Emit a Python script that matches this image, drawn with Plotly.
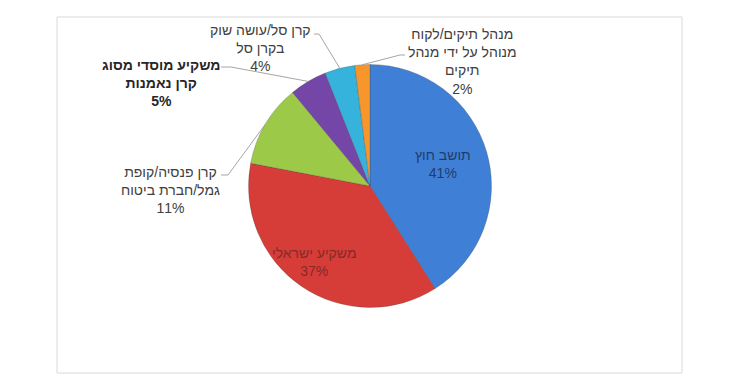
import plotly.graph_objects as go
import math

# ---- data ----
categories = [
    "תושב חוץ",
    "משקיע ישראלי",
    "קרן פנסיה/קופת גמל/חברת ביטוח",
    "משקיע מוסדי מסוג קרן נאמנות",
    "קרן סל/עושה שוק בקרן סל",
    "מנהל תיקים/לקוח מנוהל על ידי מנהל תיקים",
]
values = [41, 37, 11, 5, 4, 2]
label_lines = [
    ["תושב חוץ"],
    ["משקיע ישראלי"],
    ["קרן פנסיה/קופת", "גמל/חברת ביטוח"],
    ["משקיע מוסדי מסוג", "קרן נאמנות"],
    ["קרן סל/עושה שוק", "בקרן סל"],
    ["מנהל תיקים/לקוח", "מנוהל על ידי מנהל", "תיקים"],
]

# ---- styling ----
colors = ["#3f80d6", "#d63c38", "#9cc947", "#7446a8", "#35b3dc", "#f7962a"]
OFF = 8                      # page body margin of the html page
W, H = 735 - 2 * OFF, 392 - 2 * OFF
CX, CY, R = 370, 186, 121.5  # pie centre / radius in window pixels
FONT = "Liberation Sans, Arial, DejaVu Sans, sans-serif"

# label anchor (window pixel) positions, leader start and stub
label_pos = [(443, 164), (314, 262), (170, 190), (161, 83), (260, 48), (462, 62)]
label_color = ["#1f3d6b", "#862a27", "#404040", "#262626", "#404040", "#404040"]
label_bold = [False, False, False, True, False, False]
leader = {2: ((221, 175), (228, 175)), 3: ((221, 67), (231, 67)),
          4: ((314, 34), (319, 34)), 5: ((405, 55), (400, 55))}


def px(x, y):
    return (x - OFF) / W, 1 - (y - OFF) / H


d0 = px(CX - R, CY + R)
d1 = px(CX + R, CY - R)
fig = go.Figure(go.Pie(
    labels=categories,
    values=values,
    sort=False,
    direction="clockwise",
    rotation=0,
    textinfo="none",
    hoverinfo="none",
    marker=dict(colors=colors, line=dict(color="rgba(70,70,70,0.35)", width=0.8)),
    domain=dict(x=[d0[0], d1[0]], y=[d0[1], d1[1]]),
    showlegend=False,
))

total = sum(values)
pcts = [f"{round(v / total * 100)}%" for v in values]

f0 = px(57, 373)
f1 = px(682, 17)
annotations = []
shapes = [dict(type="rect", xref="paper", yref="paper",
               x0=f0[0], x1=f1[0], y0=f0[1], y1=f1[1],
               line=dict(color="#d9d9d9", width=1), fillcolor="rgba(0,0,0,0)", layer="below")]

cum = 0
for i, v in enumerate(values):
    lines = label_lines[i] + [pcts[i]]
    txt = "<br>".join(f"<b>{l}</b>" if label_bold[i] else l for l in lines)
    x, y = px(*label_pos[i])
    annotations.append(dict(x=x, y=y, xref="paper", yref="paper", text=txt,
                            showarrow=False, xanchor="center", yanchor="middle", align="center",
                            font=dict(family=FONT, size=14, color=label_color[i])))
    mid = (cum + v / 2) / total * 2 * math.pi
    cum += v
    if i in leader:
        tx = CX + R * math.sin(mid)
        ty = CY - R * math.cos(mid)
        (sx, sy), (bx, by) = leader[i]
        p0, p1, p2 = px(sx, sy), px(bx, by), px(tx, ty)
        shapes.append(dict(type="path", xref="paper", yref="paper",
                           path=f"M {p0[0]},{p0[1]} L {p1[0]},{p1[1]} L {p2[0]},{p2[1]}",
                           line=dict(color="#a6a6a6", width=1)))

fig.update_layout(
    width=W, height=H,
    margin=dict(l=0, r=0, t=0, b=0),
    paper_bgcolor="white",
    plot_bgcolor="white",
    annotations=annotations,
    shapes=shapes,
)

fig.write_html("out.html")
